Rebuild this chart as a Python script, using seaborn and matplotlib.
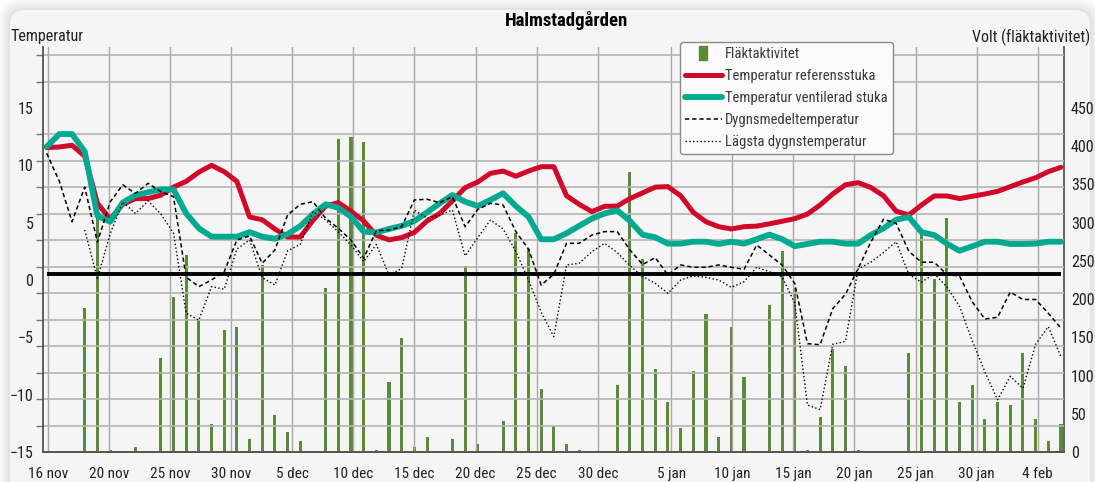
import numpy as np
import pandas as pd
import matplotlib
matplotlib.use("Agg")
import matplotlib.pyplot as plt
import seaborn as sns
from matplotlib import font_manager
from matplotlib.patches import FancyBboxPatch
from matplotlib.lines import Line2D
from matplotlib.path import Path

ref_temp = [11.55, 11.6, 11.75, 10.8, 6.7, 5.3, 6.6, 7.1, 7.1, 7.4,
            8.1, 8.6, 9.4, 10.0, 9.45, 8.6, 5.5, 5.25, 4.45, 3.75,
            3.75, 5.2, 6.45, 6.75, 6.0, 5.15, 3.9, 3.5, 3.7, 4.15,
            5.15, 5.8, 6.9, 8.05, 8.55, 9.3, 9.5, 9.05, 9.5, 9.88,
            9.88, 7.35, 6.6, 5.96, 6.42, 6.45, 7.1, 7.6, 8.1, 8.14,
            7.35, 5.9, 5.08, 4.65, 4.45, 4.65, 4.7, 4.9, 5.12, 5.35,
            5.75, 6.54, 7.5, 8.3, 8.49, 8.07, 7.35, 6.0, 5.67, 6.54,
            7.33, 7.33, 7.1, 7.3, 7.5, 7.73, 8.14, 8.55, 8.92, 9.45,
            9.83]
vent_temp = [11.63, 12.73, 12.73, 11.2, 5.6, 5.08, 6.75, 7.4, 7.65, 7.9,
             7.9, 5.81, 4.51, 3.78, 3.78, 3.78, 4.17, 3.78, 3.6, 4.0,
             4.7, 5.75, 6.6, 6.3, 5.52, 4.22, 4.15, 4.45, 4.72, 5.15,
             5.9, 6.69, 7.41, 6.83, 6.45, 6.98, 7.56, 6.45, 5.52, 3.55,
             3.55, 4.07, 4.72, 5.35, 5.8, 6.07, 5.15, 3.95, 3.72, 3.17,
             3.17, 3.34, 3.34, 3.14, 3.34, 3.17, 3.56, 3.96, 3.56, 2.95,
             3.14, 3.34, 3.34, 3.17, 3.17, 3.92, 4.51, 5.26, 5.49, 4.17,
             3.92, 3.17, 2.55, 2.94, 3.34, 3.34, 3.14, 3.14, 3.17, 3.34,
             3.34]
mean_temp = [11.05, 8.6, 5.08, 8.1, 3.3, 6.8, 8.3, 7.55, 8.43, 7.7,
             7.27, 0.25, -0.58, 0.0, 0.72, 3.49, 3.84, 1.46, 2.62, 5.67,
             6.6, 6.83, 5.38, 4.51, 3.49, 1.9, 4.3, 4.36, 4.65, 6.98,
             7.04, 6.74, 7.27, 4.65, 6.15, 6.69, 6.54, 4.22, 2.7, -0.44,
             0.5, 3.2, 3.2, 3.92, 4.22, 4.22, 2.62, 1.35, 1.95, 0.43,
             1.31, 1.11, 1.11, 1.31, 1.11, 0.93, 3.05, 2.18, 1.31, -0.3,
             -5.55, -5.65, -2.5, -1.25, 1.0, 3.3, 5.3, 4.94, 2.5, 1.55,
             1.55, 0.47, 0.35, -1.9, -3.4, -3.25, -1.05, -1.7, -1.7, -2.9,
             -4.2]
min_temp = [np.nan, np.nan, np.nan, 4.36, 0.14, 4.0, 6.8, 5.8, 6.9, 5.75,
            4.1, -2.9, -3.5, -0.58, -0.8, 2.7, 3.49, 0.2, -0.44, 2.55,
            3.1, 5.96, 5.23, 4.2, 3.05, 1.6, 3.1, 0.43, 1.0, 6.1,
            5.4, 5.67, 6.1, 2.1, 3.7, 5.23, 4.45, 2.5, 0.0, -2.8,
            -4.94, 1.31, 1.46, 2.47, 3.2, 2.4, 1.25, 0.3, -0.29, -1.16,
            0.0, 0.35, 0.23, 0.0, -0.64, -0.15, 1.11, 0.72, 0.28, -2.0,
            -10.9, -11.3, -5.6, -5.35, 0.95, 1.55, 2.4, 3.34, 0.5, -0.2,
            0.55, -0.6, -2.3, -5.3, -8.0, -10.45, -8.4, -9.45, -5.6, -4.07,
            -6.7]
fan_volt = [0, 0, 0, 189, 306, 3, 0, 6, 0, 123,
            203, 258, 173, 37, 160, 163, 17, 244, 49, 26,
            14, 0, 215, 409, 412, 406, 3, 91, 149, 6,
            20, 0, 17, 243, 11, 0, 40, 286, 266, 83,
            34, 11, 3, 0, 0, 88, 366, 252, 109, 66,
            31, 106, 180, 20, 163, 98, 0, 192, 263, 215,
            3, 46, 135, 112, 3, 0, 0, 0, 129, 286,
            226, 306, 66, 88, 43, 66, 61, 129, 43, 14,
            37]

tick_dates = ['2017-11-15', '2017-11-20', '2017-11-25', '2017-11-30', '2017-12-05',
              '2017-12-10', '2017-12-15', '2017-12-20', '2017-12-25', '2017-12-30',
              '2018-01-05', '2018-01-10', '2018-01-15', '2018-01-20', '2018-01-25',
              '2018-01-30', '2018-02-04']
tick_labels = ['16 nov', '20 nov', '25 nov', '30 nov', '5 dec', '10 dec', '15 dec',
               '20 dec', '25 dec', '30 dec', '5 jan', '10 jan', '15 jan', '20 jan',
               '25 jan', '30 jan', '4 feb']

# logger wrote one row roughly every 24.9 h
dates = pd.date_range('2017-11-14 21:40', periods=len(ref_temp), freq='1494min')
ZERO_LINE = 0.5  # the reference line sits a bit above the "0" label

RED = '#d0082a'
TEAL = '#00a98f'
GREEN = '#5b8a3a'
INK = '#222222'

sns.set_style('white')
names = {f.name for f in font_manager.fontManager.ttflist}
FONT = 'DejaVu Sans'
for cand in ['Liberation Sans Narrow', 'DejaVu Sans Condensed', 'Roboto Condensed', 'Open Sans Condensed']:
    if cand in names:
        FONT = cand
        break
plt.rcParams['font.family'] = [FONT, 'DejaVu Sans']

W, H = 1095, 482
fig = plt.figure(figsize=(W / 100, H / 100), dpi=100, facecolor='white')

# rounded panel with soft shadow
for k, a in enumerate([0.05, 0.05, 0.06, 0.07]):
    grow = (4 - k) * 0.025
    fig.patches.append(FancyBboxPatch((0.10 - grow, -0.3), 10.80 + 2 * grow, 5.02 + grow,
                                      boxstyle='round,pad=0,rounding_size=0.18',
                                      transform=fig.dpi_scale_trans, fc='#7a7a7a', ec='none',
                                      alpha=a, zorder=-3))
fig.patches.append(FancyBboxPatch((0.10, -0.3), 10.80, 5.02,
                                  boxstyle='round,pad=0,rounding_size=0.15',
                                  transform=fig.dpi_scale_trans, fc='#f5f5f5', ec='none', zorder=-2))

ax = fig.add_axes([43 / W, (H - 452) / H, (1064 - 43) / W, (452 - 47) / H])
ax2 = ax.twinx()
ax.set_zorder(ax2.get_zorder() + 1)
ax.patch.set_visible(False)
ax2.patch.set_visible(False)

# fan activity bars (right axis, behind the lines)
ax2.bar(dates, fan_volt, width=0.25, color=GREEN, lw=0, zorder=2)

# temperature lines (left axis)
sns.lineplot(x=dates, y=ref_temp, ax=ax, color=RED, lw=3.6, legend=False, zorder=3)
sns.lineplot(x=dates, y=vent_temp, ax=ax, color=TEAL, lw=4.2, legend=False, zorder=4)
sns.lineplot(x=dates, y=mean_temp, ax=ax, color='black', lw=1.1, ls=(0, (2.8, 1.9)), legend=False, zorder=5)
sns.lineplot(x=dates, y=min_temp, ax=ax, color='black', lw=1.0, ls=(0, (1.0, 1.7)), legend=False, zorder=5)
ax.hlines(ZERO_LINE, dates[0], dates[-1], color='black', lw=2.8, zorder=6)

ylo, yhi = -15, 20.32
ax.set_ylim(ylo, yhi)
ax2.set_ylim(0, (yhi - ylo) * 15)
ax.set_xlim(pd.Timestamp('2017-11-14 14:24'), pd.Timestamp('2018-02-06 03:36'))

ax.set_xticks(pd.to_datetime(tick_dates))
ax.set_xticklabels(tick_labels)
ax.set_yticks(np.arange(-15, 16, 5))
ax.set_yticks(-15 + np.arange(16) * 30 / 13, minor=True)
ax2.set_yticks(np.arange(0, 451, 50))
ax.set_xlabel('')
ax.set_ylabel('')

ax.grid(axis='x', which='major', color='#a8a8a8', lw=1.0)
ax.grid(axis='y', which='minor', color='#b4b4b4', lw=1.2)
ax.grid(axis='y', which='major', visible=False)
ax.set_axisbelow(True)

ax.tick_params(axis='x', length=9, width=1, color='#9a9a9a', pad=2, labelsize=11, labelcolor=INK)
ax.tick_params(axis='y', which='major', length=0, pad=7, labelsize=11.5, labelcolor=INK)
ax.tick_params(axis='y', which='minor', length=5, width=1, color='#777777', direction='out')
ax2.tick_params(axis='y', length=0, pad=5, labelsize=11.5, labelcolor=INK)

for a in (ax, ax2):
    a.spines['top'].set_visible(False)
    for s in ('left', 'right', 'bottom'):
        a.spines[s].set_color('#555555')
        a.spines[s].set_linewidth(1.3)
ax.spines['right'].set_visible(False)
ax2.spines['left'].set_visible(False)

fig.text(566 / W, 1 - 20 / H, 'Halmstadgården', ha='center', va='center',
         fontsize=13.5, fontweight='bold', color='black')
fig.text(10 / W, 1 - 37 / H, 'Temperatur', ha='left', va='center', fontsize=11.5, color=INK)
fig.text(1090 / W, 1 - 37 / H, 'Volt (fläktaktivitet)', ha='right', va='center', fontsize=11.5, color=INK)

bar_marker = Path([(-0.57, -1), (0.57, -1), (0.57, 1), (-0.57, 1), (-0.57, -1)])
handles = [Line2D([], [], ls='none', marker=bar_marker, ms=10, mfc=GREEN, mec=GREEN),
           Line2D([], [], color=RED, lw=3.6),
           Line2D([], [], color=TEAL, lw=4.2),
           Line2D([], [], color='black', lw=1.1, ls=(0, (2.8, 1.9))),
           Line2D([], [], color='black', lw=1.0, ls=(0, (1.0, 1.7)))]
labels = ['Fläktaktivitet', 'Temperatur referensstuka', 'Temperatur ventilerad stuka',
          'Dygnsmedeltemperatur', 'Lägsta dygnstemperatur']
leg = fig.legend(handles, labels, loc='upper left', bbox_to_anchor=(680 / W, 1 - 42 / H),
                 frameon=True, fancybox=True, framealpha=1, facecolor='#fbfbfb',
                 edgecolor='#8a8a8a', fontsize=10.5, handlelength=2.5, handletextpad=0.25,
                 labelspacing=0.55, borderpad=0.35, borderaxespad=0)
leg.get_frame().set_linewidth(1.0)
for t in leg.get_texts():
    t.set_color('#3a3a3a')

fig.savefig('out.png', dpi=100)
